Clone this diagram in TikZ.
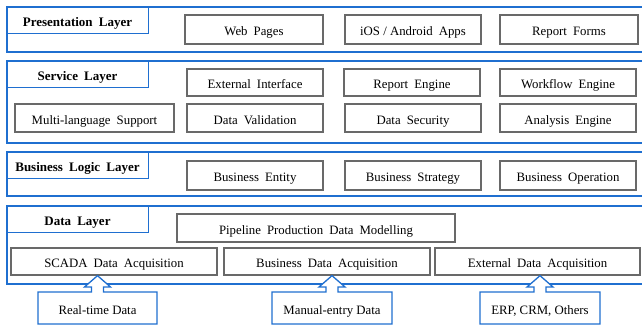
\documentclass[tikz,border=0pt]{standalone}
\usepackage{fontspec}
\setmainfont{Liberation Serif}[WordSpace=1.9]
\newfontfamily\plainserif{Liberation Serif}
\usetikzlibrary{calc}
\definecolor{lblue}{RGB}{31,111,208}
\definecolor{bgrey}{RGB}{105,105,105}
\tikzset{
  txt/.style={font=\fontsize{12.8}{14}\selectfont, text height=12.5pt, text depth=0pt},
  ctxt/.style={font=\plainserif\fontsize{12.8}{14}\selectfont, text height=12.5pt, text depth=0pt},
  frame/.style={draw=lblue, line width=1.6pt, anchor=north west, inner sep=0pt},
  titlebox/.style={draw=lblue, line width=1pt, anchor=north west, inner sep=0pt,
     minimum width=142pt, minimum height=27pt, font=\fontsize{13}{15}\selectfont\bfseries,
     text height=12.5pt, text depth=0pt},
  gbox/.style={draw=bgrey, line width=1.3pt, inner sep=0pt, txt},
  callout/.style={draw=lblue, line width=1.3pt, fill=white, line join=miter},
}
\begin{document}
\begin{tikzpicture}[x=1pt,y=-1pt]
\useasboundingbox (0,0) rectangle (642,331);
\clip (0,0) rectangle (642,331);
% layer frames
\node[frame, minimum width=700pt, minimum height=45pt] (plf) at (6,6) {};
\node[titlebox] (plt) at (6,6) {Presentation Layer};
\node[frame, minimum width=700pt, minimum height=82pt] (slf) at (6,60) {};
\node[titlebox] (slt) at (6,60) {Service Layer};
\node[frame, minimum width=700pt, minimum height=44pt] (blf) at (6,151) {};
\node[titlebox] (blt) at (6,151) {Business Logic Layer};
\node[frame, minimum width=700pt, minimum height=78pt] (dlf) at (6,205) {};
\node[titlebox] (dlt) at (6,205) {Data Layer};
% presentation
\node[gbox, minimum width=138pt, minimum height=29pt] (web) at (254,29.5) {Web Pages};
\node[gbox, minimum width=136pt, minimum height=29pt] (ios) at (413,29.5) {{\plainserif iOS / Android} Apps};
\node[gbox, minimum width=138pt, minimum height=29pt] (rf) at (569,29.5) {Report Forms};
% service
\node[gbox, minimum width=136pt, minimum height=27pt] (ei) at (255,82.5) {External Interface};
\node[gbox, minimum width=136pt, minimum height=27pt] (re) at (412,82.5) {Report Engine};
\node[gbox, minimum width=136pt, minimum height=27pt] (we) at (568,82.5) {Workflow Engine};
\node[gbox, minimum width=159pt, minimum height=28pt] (ml) at (94.5,118) {Multi-language Support};
\node[gbox, minimum width=136pt, minimum height=28pt] (dv) at (255,118) {Data Validation};
\node[gbox, minimum width=136pt, minimum height=28pt] (ds) at (413,118) {Data Security};
\node[gbox, minimum width=136pt, minimum height=28pt] (ae) at (568,118) {Analysis Engine};
% business logic
\node[gbox, minimum width=136pt, minimum height=29pt] (be) at (255,175.5) {Business Entity};
\node[gbox, minimum width=136pt, minimum height=29pt] (bs) at (413,175.5) {Business Strategy};
\node[gbox, minimum width=136pt, minimum height=29pt] (bo) at (568,175.5) {Business Operation};
% data layer
\node[gbox, minimum width=278pt, minimum height=28pt] (pp) at (316,228) {Pipeline Production Data Modelling};
\node[gbox, minimum width=206pt, minimum height=27pt] (sc) at (114,261.5) {SCADA Data Acquisition};
\node[gbox, minimum width=206pt, minimum height=27pt] (bd) at (327,261.5) {Business Data Acquisition};
\node[gbox, minimum width=205pt, minimum height=27pt] (ed) at (537.5,261.5) {External Data Acquisition};
% callouts
\coordinate (rtc) at (97.5,308);
\coordinate (mec) at (332,308);
\coordinate (erc) at (540,308);
\draw[callout] ($(rtc)+(-59.5,-16)$) -- ($(rtc)+(-6,-16)$) -- ($(rtc)+(-6,-21)$) -- ($(rtc)+(-13,-21)$)
  -- (rtc |- sc.south) -- ($(rtc)+(13,-21)$) -- ($(rtc)+(6,-21)$) -- ($(rtc)+(6,-16)$)
  -- ($(rtc)+(59.5,-16)$) -- ($(rtc)+(59.5,16)$) -- ($(rtc)+(-59.5,16)$) -- cycle;
\draw[callout] ($(mec)+(-60,-16)$) -- ($(mec)+(-6,-16)$) -- ($(mec)+(-6,-21)$) -- ($(mec)+(-13,-21)$)
  -- (mec |- bd.south) -- ($(mec)+(13,-21)$) -- ($(mec)+(6,-21)$) -- ($(mec)+(6,-16)$)
  -- ($(mec)+(60,-16)$) -- ($(mec)+(60,16)$) -- ($(mec)+(-60,16)$) -- cycle;
\draw[callout] ($(erc)+(-60,-16)$) -- ($(erc)+(-6,-16)$) -- ($(erc)+(-6,-21)$) -- ($(erc)+(-13,-21)$)
  -- (erc |- ed.south) -- ($(erc)+(13,-21)$) -- ($(erc)+(6,-21)$) -- ($(erc)+(6,-16)$)
  -- ($(erc)+(60,-16)$) -- ($(erc)+(60,16)$) -- ($(erc)+(-60,16)$) -- cycle;
\node[ctxt] (rt) at (rtc) {Real-time Data};
\node[ctxt] (me) at (mec) {Manual-entry Data};
\node[ctxt] (er) at (erc) {ERP, CRM, Others};
\end{tikzpicture}
\end{document}
